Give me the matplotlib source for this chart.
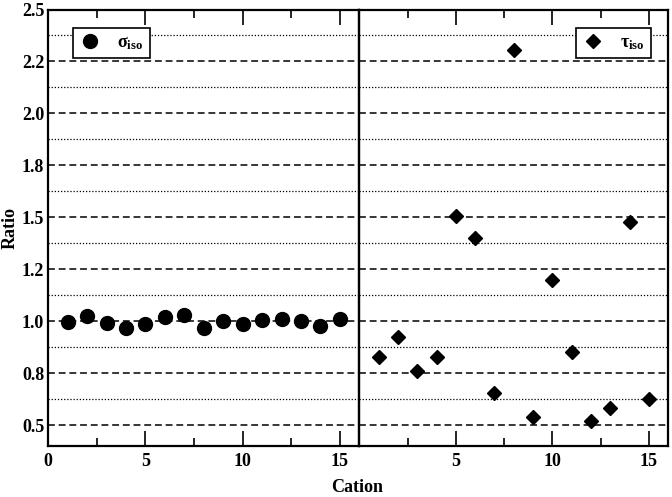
import matplotlib
matplotlib.use("Agg")
import matplotlib.pyplot as plt
from matplotlib.ticker import MultipleLocator, FormatStrFormatter
import numpy as np

plt.rcParams['font.family'] = ['Liberation Serif', 'DejaVu Serif']
plt.rcParams['font.weight'] = 'bold'
plt.rcParams['mathtext.fontset'] = 'custom'
plt.rcParams['mathtext.rm'] = 'Liberation Serif:bold'
plt.rcParams['mathtext.bf'] = 'Liberation Serif:bold'
plt.rcParams['mathtext.it'] = 'Liberation Serif:bold'

# cation index 1..15
cation = np.arange(1, 16)
sigma_iso = [0.995, 1.027, 0.99, 0.97, 0.985, 1.02, 1.03, 0.97, 1.0, 0.985,
             1.006, 1.01, 1.0, 0.976, 1.01]
tau_iso = [0.828, 0.922, 0.759, 0.828, 1.506, 1.403, 0.655, 2.307, 0.538, 1.199,
           0.854, 0.519, 0.583, 1.48, 0.627]

fig = plt.figure(figsize=(6.72, 4.97), dpi=100)
W, H = 672, 497
ax1 = fig.add_axes([48.3/W, 51/H, 311/W, 436.5/H])
ax2 = fig.add_axes([359.3/W, 51/H, 309/W, 436.5/H], sharey=ax1)

for ax in (ax1, ax2):
    ax.set_xlim(0, 16)
    ax.set_ylim(0.4, 2.5)
    ax.xaxis.set_major_locator(MultipleLocator(5))
    ax.xaxis.set_minor_locator(MultipleLocator(2.5))
    ax.yaxis.set_major_locator(MultipleLocator(0.25))
    ax.yaxis.set_minor_locator(MultipleLocator(0.125))
    ax.yaxis.set_major_formatter(FormatStrFormatter('%.1f'))
    ax.tick_params(axis='x', which='major', direction='in', length=11, width=1.2,
                   top=True, labelsize=13, pad=5)
    ax.tick_params(axis='x', which='minor', direction='in', length=5.5, width=1.2,
                   top=True)
    ax.tick_params(axis='y', which='both', length=0, labelsize=13, pad=3)
    ax.grid(True, axis='y', which='major', color='black', linestyle=(0, (4.5, 2.5)),
            linewidth=1.1)
    ax.grid(True, axis='y', which='minor', color='black', linestyle=(0, (1, 1.5)),
            linewidth=0.9)
    for sp in ax.spines.values():
        sp.set_linewidth(1.6)
    ax.set_axisbelow(True)
    ax.patch.set_alpha(0)

ax1.plot(cation, sigma_iso, 'o', color='black', markersize=10, label=r'σ$_{\mathbf{iso}}$')
ax2.plot(cation, tau_iso, 'D', color='black', markersize=7, label=r'τ$_{\mathbf{iso}}$')

ax2.tick_params(axis='y', labelleft=False)
ax2.set_xticks([5, 10, 15])

ax1.set_ylabel('Ratio', fontsize=13, fontweight='bold', va='center')
ax1.yaxis.set_label_coords(-38/311, 0.5)
fig.text(357/W, 1 - 487/H, 'Cation', ha='center', va='center', fontsize=13,
         fontweight='bold')

leg_kw = dict(fontsize=13, frameon=True, fancybox=False, edgecolor='black',
              handletextpad=0.9, borderpad=0.35, handlelength=1.2,
              borderaxespad=0)
l1 = ax1.legend(loc='upper left', bbox_to_anchor=(0.08, 0.958), **leg_kw)
l2 = ax2.legend(loc='upper right', bbox_to_anchor=(0.945, 0.958), **leg_kw)
for l in (l1, l2):
    l.get_frame().set_linewidth(1.2)
    l.get_frame().set_alpha(1)

fig.savefig('out.png', dpi=100)
